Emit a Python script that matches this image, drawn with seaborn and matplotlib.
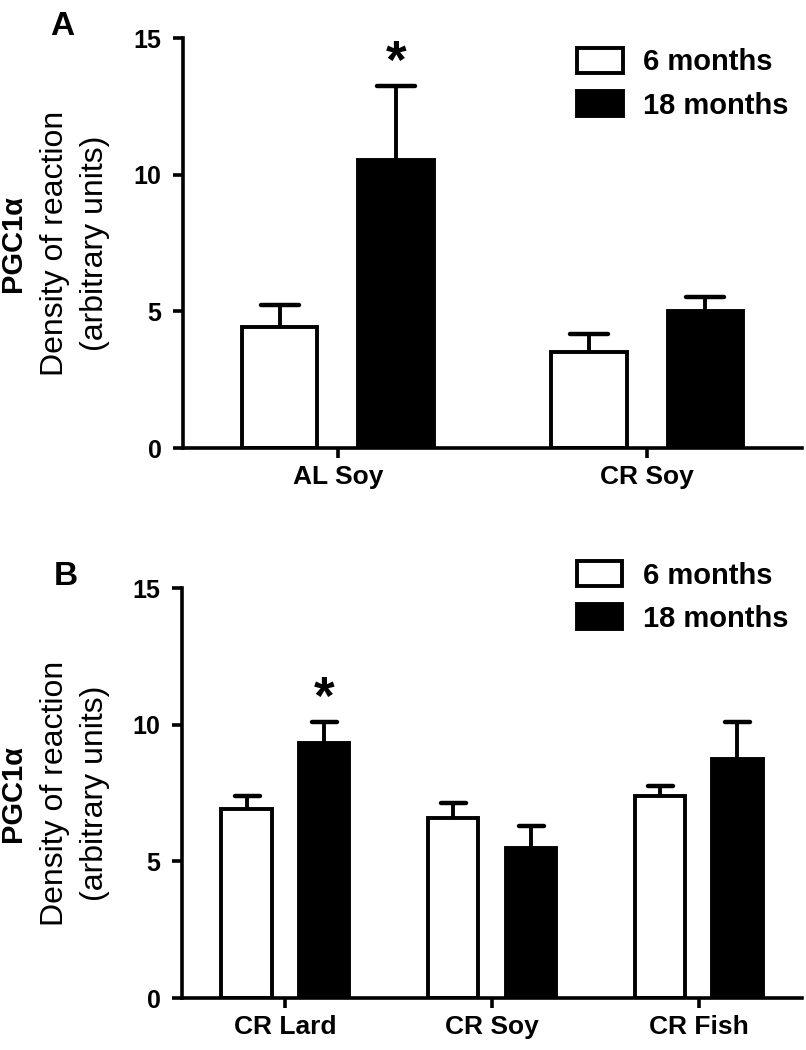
import numpy as np
import pandas as pd
import matplotlib
matplotlib.use("Agg")
import matplotlib.pyplot as plt
from matplotlib.markers import MarkerStyle
import seaborn as sns

# ---------------- data ----------------
groups = ["6 months", "18 months"]

cats_a = ["AL Soy", "CR Soy"]
mean_a_6 = [4.42, 3.50]
mean_a_18 = [10.52, 5.03]
sem_a_6 = [0.82, 0.68]
sem_a_18 = [2.72, 0.50]
star_a = ["AL Soy"]          # significant 18-month bars

cats_b = ["CR Lard", "CR Soy", "CR Fish"]
mean_b_6 = [6.90, 6.60, 7.38]
mean_b_18 = [9.33, 5.50, 8.75]
sem_b_6 = [0.50, 0.52, 0.38]
sem_b_18 = [0.76, 0.80, 1.36]
star_b = ["CR Lard"]

yticks = [0, 5, 10, 15]

# ---------------- style ----------------
sns.set_theme(style="ticks")
plt.rcParams["font.family"] = ["Liberation Sans", "DejaVu Sans"]
for k in ("text.color", "axes.labelcolor", "xtick.color", "ytick.color", "axes.edgecolor"):
    plt.rcParams[k] = "black"

LW = 2.8
SPINE_LW = 2.6
W, H = 806, 1050

fig = plt.figure(figsize=(W / 100, H / 100), dpi=100)
axA = fig.add_axes([183 / W, 1 - 448 / H, 619 / W, 410 / H])
axB = fig.add_axes([182 / W, 1 - 998 / H, 620 / W, 410 / H])


def panel(ax, cats, m6, m18, s6, s18, capsize, stars, leg_y, yc_px):
    df = pd.DataFrame({
        "cat": cats * 2,
        "age": [groups[0]] * len(cats) + [groups[1]] * len(cats),
        "val": list(m6) + list(m18),
    })
    sns.barplot(data=df, x="cat", y="val", hue="age", order=cats, hue_order=groups,
                palette={groups[0]: "white", groups[1]: "black"}, saturation=1,
                edgecolor="black", linewidth=LW, width=0.75, gap=0.35,
                errorbar=None, ax=ax, legend=True, zorder=2)
    errs = [s6, s18]
    for cont, err in zip(ax.containers, errs):
        xs = np.array([b.get_x() + b.get_width() / 2 for b in cont])
        hs = np.array([b.get_height() for b in cont])
        eb = ax.errorbar(xs, hs, yerr=[np.zeros(len(err)), np.array(err)], fmt="none",
                         ecolor="black", elinewidth=LW, capsize=capsize, capthick=LW + 0.4,
                         zorder=1)
        caps = eb[1]
        if len(caps) > 0:
            caps[0].set_visible(False)
            for c in caps:
                try:
                    c.set_marker(MarkerStyle("_", capstyle="round"))
                except Exception:
                    pass
    # significance stars above the 18-month bars
    cont18 = ax.containers[1]
    for cat in stars:
        i = cats.index(cat)
        b = cont18[i]
        top = b.get_height() + s18[i]
        ax.annotate("*", xy=(b.get_x() + b.get_width() / 2, top), xytext=(0, 6),
                    textcoords="offset points", ha="center", va="baseline",
                    fontsize=38, fontweight="bold", color="black")

    ax.set_ylim(0, 15)
    ax.set_yticks(yticks)
    ax.set_xlim(-0.5, len(cats) - 0.5)
    ax.set_xlabel("")
    ax.set_ylabel("")
    sns.despine(ax=ax)
    for s in ("left", "bottom"):
        ax.spines[s].set_linewidth(SPINE_LW)
        ax.spines[s].set_color("black")
    ax.tick_params(axis="both", width=SPINE_LW, length=7.5, color="black",
                   labelcolor="black", direction="out")
    ax.tick_params(axis="y", pad=8, labelsize=18)
    ax.tick_params(axis="x", pad=5, labelsize=19)
    for lab in ax.get_xticklabels() + ax.get_yticklabels():
        lab.set_fontweight("bold")
        lab.set_color("black")

    handles, labels = ax.get_legend_handles_labels()
    if ax.get_legend() is not None:
        ax.get_legend().remove()
    for h in handles:
        h.set_edgecolor("black")
        h.set_linewidth(LW)
    leg = ax.legend(handles, labels, loc="upper left", bbox_to_anchor=(0.637, leg_y),
                    frameon=False, borderaxespad=0, borderpad=0, handlelength=1.55,
                    handleheight=0.95, handletextpad=0.7, labelspacing=0.5,
                    prop={"size": 21, "weight": "bold"})
    for t in leg.get_texts():
        t.set_color("black")

    # three-line y label
    yc = 1 - yc_px / H
    fig.text(21 / W, yc, "PGC1α", rotation=90, rotation_mode="anchor", ha="center",
             va="baseline", fontsize=21, fontweight="bold", color="black")
    fig.text(63 / W, yc, "Density of reaction", rotation=90, rotation_mode="anchor",
             ha="center", va="baseline", fontsize=23, color="black")
    fig.text(103 / W, yc, "(arbitrary units)", rotation=90, rotation_mode="anchor",
             ha="center", va="baseline", fontsize=23, color="black")


panel(axA, cats_a, mean_a_6, mean_a_18, sem_a_6, sem_a_18, 14, star_a, 0.976, 243)
panel(axB, cats_b, mean_b_6, mean_b_18, sem_b_6, sem_b_18, 9, star_b, 1.066, 793)

fig.text(50 / W, 1 - 35 / H, "A", fontsize=24, fontweight="bold", ha="left", va="baseline")
fig.text(54 / W, 1 - 585 / H, "B", fontsize=24, fontweight="bold", ha="left", va="baseline")

fig.savefig("out.png", dpi=100, facecolor="white")
